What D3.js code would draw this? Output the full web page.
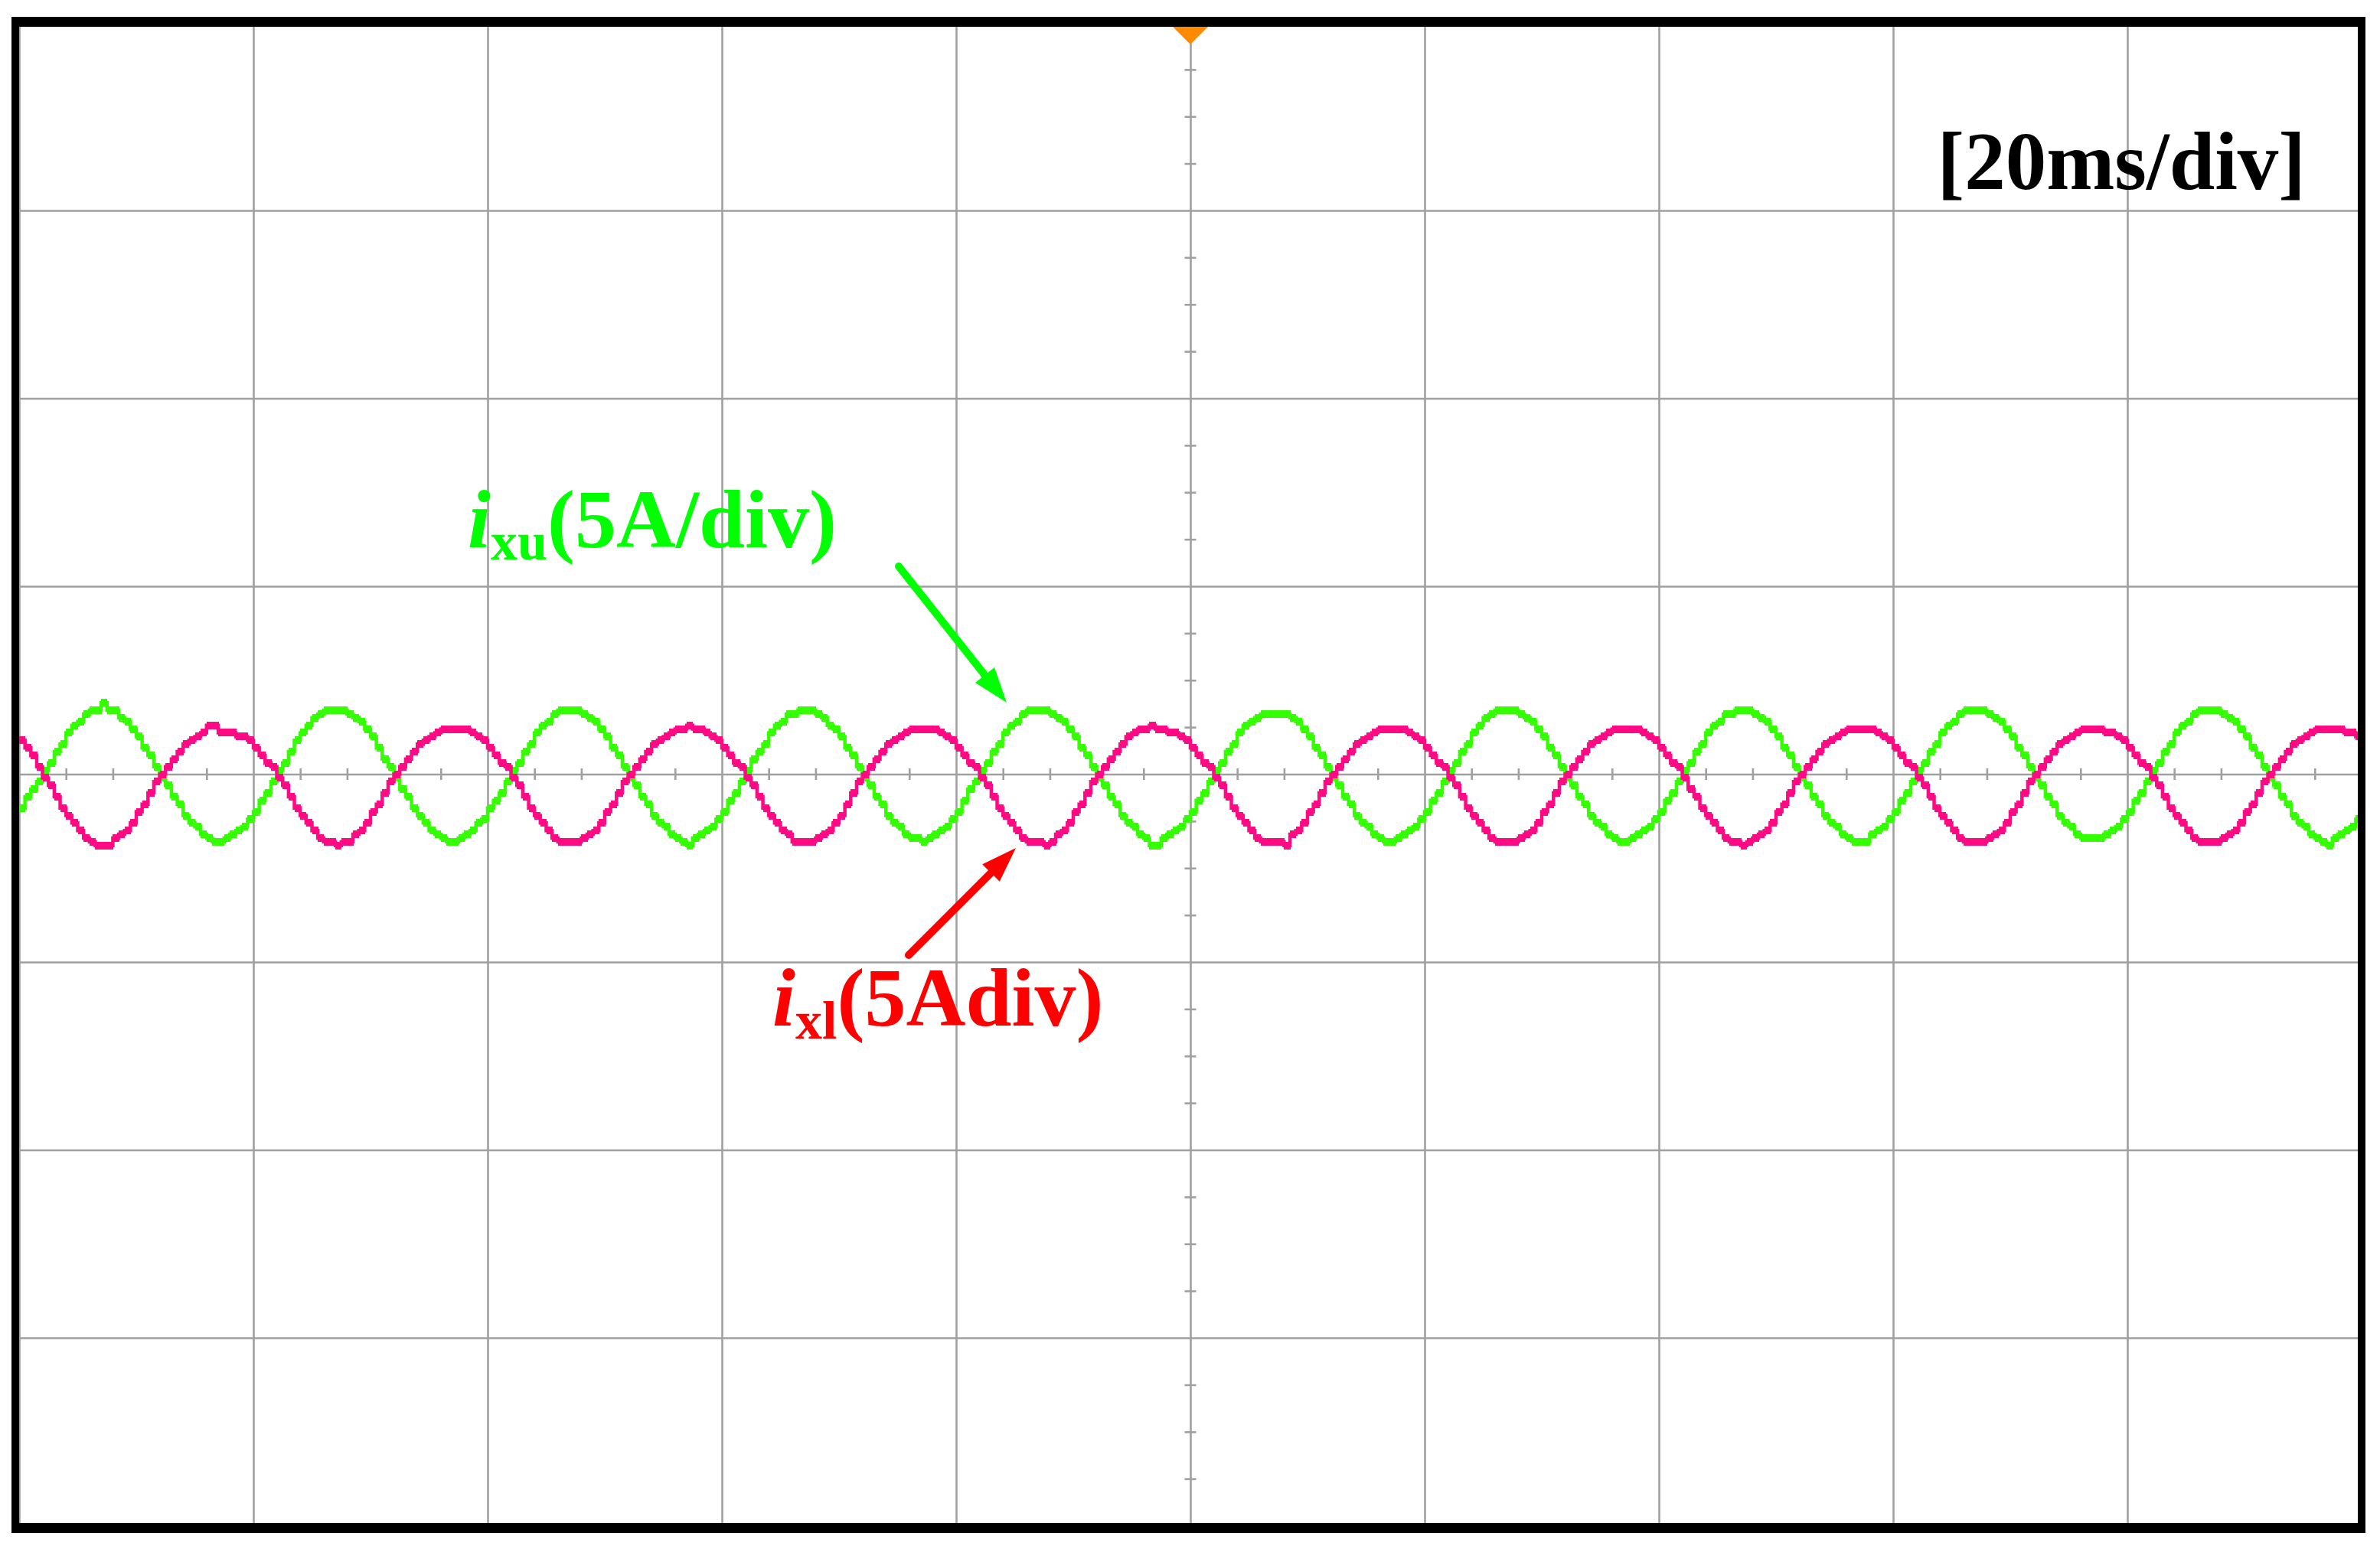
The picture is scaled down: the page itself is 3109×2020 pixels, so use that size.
<!DOCTYPE html>
<html>
<head>
<meta charset="utf-8">
<script src="https://cdn.jsdelivr.net/npm/d3@7"></script>
<style>
  html, body { margin: 0; padding: 0; background: #fff; }
  svg { display: block; }
</style>
</head>
<body>
<svg id="scope"></svg>
<script>
// scope settings: 20 ms/div (10 div), 5 A/div (8 div), one sample every 0.5 ms
const timeDomain = [-100, 100];
const currentDomain = [-20, 20];
const sampleStep = 0.5;

const timeDivs = [-100, -80, -60, -40, -20, 0, 20, 40, 60, 80, 100];
const currentDivs = [-20, -15, -10, -5, 0, 5, 10, 15, 20];

// i_xu, upper arm current (A), 0.5 ms apart starting at -100 ms
const ixu = [
  -0.9,-0.6,-0.4,-0.2,
  0.1,0.3,0.6,0.8,1.1,1.3,1.4,1.6,1.7,1.7,1.9,1.7,1.7,1.5,1.4,1.2,1.0,0.7,0.5,0.2,
  -0.1,-0.3,-0.6,-0.8,-1.1,-1.3,-1.4,-1.6,-1.7,-1.8,-1.8,-1.7,-1.6,-1.5,-1.4,-1.2,-1.0,-0.7,-0.5,-0.2,
  0.1,0.3,0.6,0.9,1.1,1.3,1.5,1.6,1.7,1.7,1.7,1.7,1.6,1.5,1.4,1.2,1.0,0.7,0.4,0.2,
  -0.1,-0.4,-0.6,-0.9,-1.1,-1.3,-1.5,-1.6,-1.7,-1.8,-1.8,-1.7,-1.6,-1.5,-1.3,-1.2,-0.9,-0.7,-0.5,-0.2,
  0.1,0.3,0.6,0.8,1.1,1.3,1.4,1.6,1.7,1.7,1.7,1.7,1.6,1.5,1.4,1.2,1.0,0.7,0.5,0.2,
  -0.1,-0.3,-0.6,-0.8,-1.1,-1.3,-1.4,-1.6,-1.7,-1.8,-1.9,-1.7,-1.6,-1.5,-1.4,-1.2,-1.0,-0.7,-0.5,-0.2,
  0.1,0.4,0.6,0.8,1.1,1.3,1.4,1.6,1.6,1.7,1.7,1.7,1.6,1.5,1.3,1.2,1.0,0.7,0.5,0.2,
  -0.1,-0.3,-0.6,-0.8,-1.1,-1.3,-1.4,-1.6,-1.7,-1.7,-1.8,-1.7,-1.6,-1.5,-1.4,-1.2,-1.0,-0.7,-0.4,-0.2,
  0.1,0.3,0.6,0.8,1.1,1.3,1.4,1.6,1.7,1.7,1.7,1.7,1.6,1.5,1.4,1.2,1.0,0.7,0.5,0.2,
  -0.1,-0.3,-0.6,-0.8,-1.1,-1.3,-1.4,-1.6,-1.7,-1.9,-1.9,-1.7,-1.6,-1.5,-1.4,-1.2,-1.0,-0.7,-0.5,-0.2,
  0.1,0.3,0.6,0.8,1.1,1.3,1.4,1.5,1.6,1.6,1.6,1.6,1.6,1.5,1.4,1.2,1.0,0.7,0.5,0.2,
  -0.1,-0.3,-0.6,-0.8,-1.1,-1.3,-1.4,-1.6,-1.7,-1.8,-1.8,-1.7,-1.6,-1.5,-1.4,-1.2,-1.0,-0.7,-0.5,-0.2,
  0.1,0.3,0.6,0.8,1.1,1.3,1.5,1.6,1.7,1.7,1.7,1.7,1.6,1.5,1.4,1.2,1.0,0.7,0.5,0.2,
  -0.1,-0.3,-0.6,-0.8,-1.1,-1.3,-1.4,-1.6,-1.7,-1.8,-1.8,-1.7,-1.6,-1.5,-1.4,-1.2,-1.0,-0.7,-0.5,-0.2,
  0.1,0.3,0.6,0.8,1.1,1.3,1.4,1.6,1.6,1.7,1.7,1.7,1.6,1.5,1.4,1.2,1.0,0.7,0.5,0.2,
  -0.1,-0.3,-0.6,-0.8,-1.1,-1.3,-1.4,-1.6,-1.7,-1.8,-1.8,-1.8,-1.6,-1.5,-1.4,-1.2,-1.0,-0.7,-0.5,-0.2,
  0.1,0.3,0.6,0.8,1.1,1.3,1.4,1.6,1.7,1.7,1.7,1.7,1.6,1.5,1.4,1.2,1.0,0.7,0.5,0.2,
  -0.1,-0.3,-0.6,-0.8,-1.1,-1.3,-1.4,-1.6,-1.7,-1.7,-1.7,-1.7,-1.6,-1.5,-1.4,-1.2,-1.0,-0.7,-0.5,-0.2,
  0.1,0.3,0.6,0.8,1.1,1.3,1.4,1.6,1.7,1.7,1.7,1.7,1.6,1.5,1.4,1.2,1.0,0.7,0.5,0.2,
  -0.1,-0.3,-0.6,-0.8,-1.1,-1.3,-1.4,-1.6,-1.7,-1.8,-1.9,-1.7,-1.6,-1.5,-1.4,-1.2,-1.1
];

// i_xl, lower arm current (A), same sample times
const ixl = [
  0.9,0.7,0.5,0.2,
  -0.1,-0.3,-0.6,-0.9,-1.1,-1.3,-1.5,-1.7,-1.8,-1.9,-1.9,-1.9,-1.7,-1.6,-1.5,-1.3,-1.0,-0.8,-0.5,-0.2,
  0.0,0.2,0.4,0.6,0.8,0.9,1.0,1.1,1.3,1.3,1.1,1.1,1.1,1.0,1.0,0.9,0.7,0.5,0.3,0.2,
  -0.1,-0.3,-0.6,-0.9,-1.1,-1.3,-1.5,-1.7,-1.8,-1.8,-1.9,-1.8,-1.8,-1.6,-1.5,-1.3,-1.0,-0.8,-0.5,-0.2,
  0.0,0.2,0.4,0.6,0.8,0.9,1.0,1.1,1.2,1.2,1.2,1.2,1.2,1.1,1.0,0.9,0.7,0.5,0.3,0.2,
  -0.1,-0.3,-0.6,-0.9,-1.1,-1.3,-1.5,-1.7,-1.8,-1.8,-1.8,-1.8,-1.7,-1.6,-1.5,-1.3,-1.0,-0.8,-0.5,-0.2,
  0.0,0.2,0.4,0.6,0.8,0.9,1.0,1.1,1.2,1.2,1.3,1.2,1.2,1.1,1.0,0.9,0.7,0.5,0.3,0.2,
  -0.1,-0.3,-0.6,-0.9,-1.1,-1.3,-1.5,-1.6,-1.8,-1.8,-1.8,-1.8,-1.7,-1.6,-1.5,-1.3,-1.1,-0.8,-0.5,-0.2,
  0.0,0.2,0.4,0.6,0.8,0.9,1.0,1.1,1.2,1.2,1.2,1.2,1.2,1.1,1.0,0.9,0.7,0.5,0.3,0.2,
  -0.1,-0.3,-0.6,-0.9,-1.1,-1.3,-1.5,-1.7,-1.8,-1.8,-1.8,-1.9,-1.8,-1.6,-1.5,-1.3,-1.0,-0.8,-0.5,-0.2,
  0.0,0.2,0.4,0.6,0.8,1.0,1.1,1.2,1.2,1.3,1.2,1.2,1.1,1.1,1.0,0.9,0.7,0.5,0.3,0.2,
  -0.1,-0.3,-0.6,-0.9,-1.1,-1.3,-1.5,-1.7,-1.8,-1.8,-1.8,-1.8,-1.9,-1.6,-1.5,-1.3,-1.0,-0.8,-0.5,-0.2,
  0.0,0.2,0.4,0.6,0.8,0.9,1.0,1.1,1.2,1.2,1.2,1.2,1.2,1.1,1.0,0.9,0.7,0.5,0.3,0.2,
  -0.1,-0.3,-0.6,-0.9,-1.1,-1.3,-1.5,-1.7,-1.8,-1.8,-1.8,-1.8,-1.7,-1.6,-1.5,-1.3,-1.0,-0.8,-0.5,-0.2,
  0.0,0.2,0.4,0.6,0.8,0.9,1.0,1.1,1.2,1.2,1.2,1.2,1.2,1.1,1.0,0.9,0.7,0.5,0.3,0.2,
  -0.1,-0.4,-0.6,-0.9,-1.1,-1.3,-1.5,-1.7,-1.8,-1.8,-1.9,-1.8,-1.7,-1.6,-1.5,-1.3,-1.0,-0.8,-0.5,-0.2,
  0.0,0.2,0.4,0.6,0.8,0.9,1.0,1.1,1.2,1.2,1.2,1.2,1.2,1.1,1.0,0.9,0.7,0.5,0.3,0.2,
  -0.1,-0.3,-0.6,-0.9,-1.1,-1.3,-1.5,-1.7,-1.8,-1.8,-1.8,-1.8,-1.7,-1.6,-1.5,-1.3,-1.0,-0.8,-0.5,-0.2,
  0.0,0.2,0.4,0.6,0.8,0.9,1.0,1.1,1.2,1.2,1.2,1.2,1.1,1.1,1.0,0.9,0.7,0.5,0.3,0.2,
  -0.1,-0.3,-0.6,-0.9,-1.1,-1.3,-1.5,-1.7,-1.8,-1.8,-1.8,-1.8,-1.7,-1.6,-1.5,-1.3,-1.0,-0.8,-0.5,-0.2,
  0.0,0.2,0.4,0.6,0.8,0.9,1.0,1.1,1.2,1.2,1.2,1.2,1.2,1.1,1.1,1.0,1.0
];

const minorTime = d3.range(-100, 100.1, 4).filter(t => t % 20 != 0);
const minorCurrent = d3.range(-20, 20.1, 1.25).filter(v => v % 5 != 0);

const W = 3109, H = 2020;
const gridColor = "#a0a0a0";

const svg = d3.select("#scope").attr("width", W).attr("height", H);
svg.append("rect").attr("width", W).attr("height", H).attr("fill", "#fff");

const x = d3.scaleLinear().domain(timeDomain).range([25, 3085]);
const y = d3.scaleLinear().domain(currentDomain).range([1993.5, 29.5]);

// clip to the inside of the frame
svg.append("defs").append("clipPath").attr("id", "inside")
  .append("rect").attr("x", 25).attr("y", 35).attr("width", 3055).attr("height", 1955);

const plot = svg.append("g").attr("clip-path", "url(#inside)");

// division grid
plot.append("g")
  .attr("transform", `translate(0,${y(-20)})`)
  .call(d3.axisBottom(x).tickValues(timeDivs).tickSize(-(y(-20) - y(20))).tickFormat(""))
  .call(g => g.select(".domain").remove())
  .call(g => g.selectAll("text").remove())
  .call(g => g.selectAll("line").attr("stroke", gridColor).attr("stroke-width", 2.6));

plot.append("g")
  .attr("transform", `translate(${x(-100)},0)`)
  .call(d3.axisLeft(y).tickValues(currentDivs).tickSize(-(x(100) - x(-100))).tickFormat(""))
  .call(g => g.select(".domain").remove())
  .call(g => g.selectAll("text").remove())
  .call(g => g.selectAll("line").attr("stroke", gridColor).attr("stroke-width", 2.6));

// minor ticks on the centre axes
plot.append("g")
  .attr("transform", `translate(0,${y(0) + 7.5})`)
  .call(d3.axisTop(x).tickValues(minorTime).tickSize(15).tickFormat(""))
  .call(g => g.select(".domain").remove())
  .call(g => g.selectAll("text").remove())
  .call(g => g.selectAll("line").attr("stroke", gridColor).attr("stroke-width", 2.6));

plot.append("g")
  .attr("transform", `translate(${x(0) + 7.5},0)`)
  .call(d3.axisLeft(y).tickValues(minorCurrent).tickSize(15).tickFormat(""))
  .call(g => g.select(".domain").remove())
  .call(g => g.selectAll("text").remove())
  .call(g => g.selectAll("line").attr("stroke", gridColor).attr("stroke-width", 2.6));

// traces: each sample is a short block, risers join the levels
function drawTrace(values, color) {
  const data = values.map((v, i) => ({ t: timeDomain[0] + i * sampleStep, v: v }));
  const g = plot.append("g").attr("fill", color).attr("shape-rendering", "crispEdges");
  const dx = x(sampleStep) - x(0);
  g.selectAll("rect").data(data).join("rect")
    .attr("x", d => x(d.t))
    .attr("width", dx + 0.6)
    .attr("y", d => y(d.v) - 5)
    .attr("height", 10);
  const line = d3.line().x(d => x(d.t)).y(d => y(d.v)).curve(d3.curveStepAfter);
  plot.append("path").datum(data)
    .attr("d", line)
    .attr("fill", "none")
    .attr("stroke", color)
    .attr("stroke-width", 4.5);
}
drawTrace(ixu, "#33ff00");
drawTrace(ixl, "#ff0a84");

// trigger marker
const tx = x(0);
svg.append("path")
  .attr("d", `M${tx - 23},35 L${tx + 23},35 L${tx},58 Z`)
  .attr("fill", "#ff8a00");

// frame
svg.append("path")
  .attr("d", "M15,22 H3090 V2003 H15 Z M25,35 V1990 H3080 V35 Z")
  .attr("fill", "#000")
  .attr("fill-rule", "evenodd");

// annotations
const serif = "'Liberation Serif', 'Times New Roman', Times, serif";

svg.append("text")
  .attr("x", 3012).attr("y", 247)
  .attr("text-anchor", "end")
  .attr("font-family", serif).attr("font-weight", "bold").attr("font-size", 107)
  .attr("fill", "#000")
  .text("[20ms/div]");

function label(px, py, sub, rest, color, shift) {
  const t = svg.append("text")
    .attr("x", px).attr("y", py)
    .attr("font-family", serif).attr("font-weight", "bold").attr("font-size", 108)
    .attr("fill", color);
  t.append("tspan").attr("font-style", "italic").text("i");
  t.append("tspan").attr("font-size", 70).attr("dy", shift).text(sub);
  t.append("tspan").attr("dy", -shift).text(rest);
}
label(611, 715, "xu", "(5A/div)", "#00ff00", 16);
label(1009, 1340, "xl", "(5Adiv)", "#ff0000", 17);

function arrow(x1, y1, x2, y2, color) {
  const a = Math.atan2(y2 - y1, x2 - x1);
  const hl = 46, hw = 16;
  const bx = x2 - hl * Math.cos(a), by = y2 - hl * Math.sin(a);
  svg.append("line")
    .attr("x1", x1).attr("y1", y1).attr("x2", bx + 4 * Math.cos(a)).attr("y2", by + 4 * Math.sin(a))
    .attr("stroke", color).attr("stroke-width", 10).attr("stroke-linecap", "round");
  svg.append("path")
    .attr("d", `M${x2},${y2} L${bx + hw * Math.sin(a)},${by - hw * Math.cos(a)} L${bx - hw * Math.sin(a)},${by + hw * Math.cos(a)} Z`)
    .attr("fill", color);
}
arrow(1174, 740, 1315, 918, "#00ff00");
arrow(1187, 1248, 1327, 1108, "#ff0000");
</script>
</body>
</html>
